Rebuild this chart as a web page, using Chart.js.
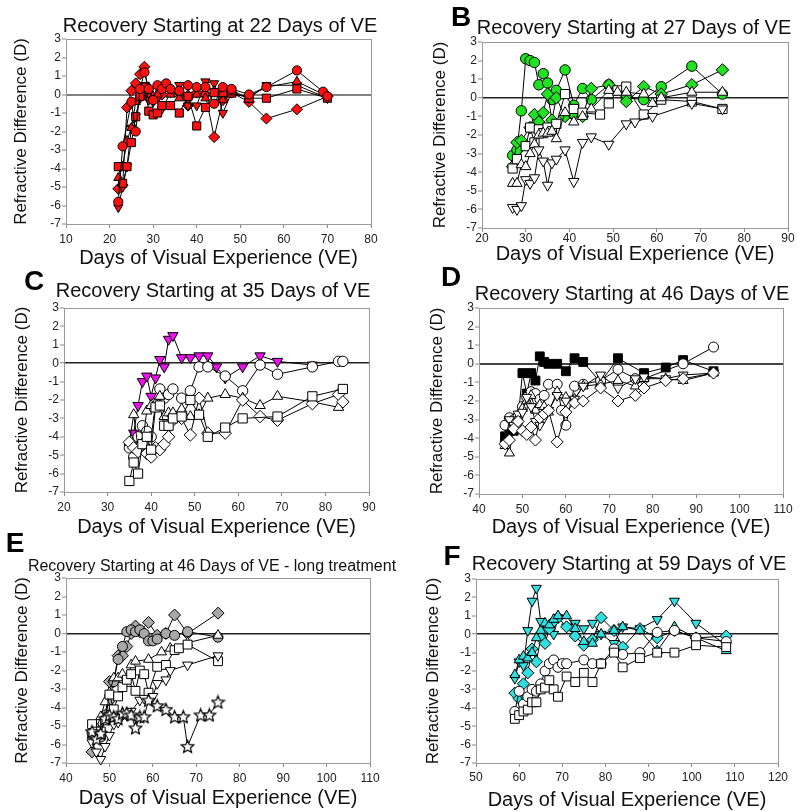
<!DOCTYPE html>
<html><head><meta charset="utf-8">
<script src="https://cdn.jsdelivr.net/npm/chart.js@4"></script>
<style>
body{margin:0;background:#fff;width:800px;height:812px;position:relative;overflow:hidden;font-family:"Liberation Sans",Arial,sans-serif}
canvas{position:absolute}
.t{position:absolute;white-space:nowrap;transform:translate(-50%,-50%);color:#111;line-height:1}
.l{position:absolute;font-weight:bold;font-size:28px;transform:translate(-50%,-50%);color:#000;line-height:1}
</style></head><body>
<canvas id="cA" width="400" height="270" style="left:0;top:0"></canvas>
<canvas id="cB" width="400" height="270" style="left:400px;top:0"></canvas>
<canvas id="cC" width="400" height="270" style="left:0;top:270px"></canvas>
<canvas id="cD" width="400" height="270" style="left:400px;top:270px"></canvas>
<canvas id="cE" width="400" height="272" style="left:0;top:540px"></canvas>
<canvas id="cF" width="400" height="272" style="left:400px;top:540px"></canvas>
<div class="t" style="left:220px;top:25px;font-size:20px">Recovery Starting at 22 Days of VE</div>
<div class="t" style="left:634px;top:27px;font-size:20px">Recovery Starting at 27 Days of VE</div>
<div class="t" style="left:213px;top:290px;font-size:20px">Recovery Starting at 35 Days of VE</div>
<div class="t" style="left:632px;top:293px;font-size:20px">Recovery Starting at 46 Days of VE</div>
<div class="t" style="left:212px;top:566px;font-size:16px">Recovery Starting at 46 Days of VE - long treatment</div>
<div class="t" style="left:629px;top:563px;font-size:20px">Recovery Starting at 59 Days of VE</div>
<div class="l" style="left:461px;top:17px">B</div>
<div class="l" style="left:34px;top:281px">C</div>
<div class="l" style="left:451px;top:277px">D</div>
<div class="l" style="left:15px;top:543px">E</div>
<div class="l" style="left:452px;top:556px">F</div>
<script>
// ---------- DATA ----------
const yTicks = [-7,-6,-5,-4,-3,-2,-1,0,1,2,3];
const yTitle = "Refractive Difference (D)";
const xTitle = "Days of Visual Experience (VE)";

// Panel A (22 days)
const aCircleX = [22,23,25,26,27,28,29,30,31,32,33,34,36,38,40,42,44,46,48,52,56,63,69,70];
const aCircleY = [-5.8,-2.8,-0.4,-2.0,0.3,1.2,0.3,-0.3,0.5,0.3,0.6,0.3,0.2,0.5,0.4,0.4,-0.5,0.4,0.3,0.0,0.4,1.3,0.15,-0.1];
const aSquareX = [22,23,24,25,26,27,28,29,30,31,32,34,36,38,40,42,44,46,48,52,56,63,70];
const aSquareY = [-3.9,-4.8,-3.9,-2.6,-1.2,-0.1,0.4,-0.9,-1.1,-1.0,-0.6,-0.6,-1.0,-0.1,-1.7,-0.7,0.1,0.1,0.2,-0.2,-0.2,0.3,-0.2];
const aTriUpX = [22,23,24,25,26,27,28,29,30,31,32,34,36,38,40,42,44,46,48,52,56,63,70];
const aTriUpY = [-4.5,-3.9,-2.5,-1.8,-0.4,0.2,0.3,0.4,-0.1,0.0,0.4,0.0,-0.2,0.0,0.0,-0.2,0.2,-0.3,0.0,-0.1,0.4,0.7,-0.1];
const aTriDnX = [22,23,24,25,26,27,28,29,30,31,32,34,36,38,40,42,44,46,48,52,56,63,70];
const aTriDnY = [-6.1,-5.0,-3.9,-1.8,-1.2,-0.2,0.5,-0.3,-0.4,-0.2,-0.8,0.1,0.5,-0.6,-0.6,0.7,0.6,-1.0,0.1,-0.2,0.5,0.5,-0.2];
const aDiamX = [22,23,24,25,26,27,28,29,30,31,32,34,36,38,40,42,44,46,48,52,56,63,70];
const aDiamY = [-5.1,-4.9,-0.7,0.2,0.6,1.1,1.5,-0.2,-0.3,-0.1,0.0,0.3,0.1,-0.6,0.1,0.0,-2.3,-0.3,0.1,-0.4,-1.3,-0.8,-0.1];

// Panel B (27 days)
const bCircleX = [27,28,29,30,31,32,33,34,35,36,37,39,41,43,45,49,53,57,61,68,75];
const bCircleY = [-3.1,-2.8,-0.7,2.1,2.0,1.9,0.7,1.3,0.8,-0.1,0.4,1.5,-0.4,0.5,-0.1,0.7,0.0,-0.1,0.6,1.7,0.2];
const bDiamX = [27,28,29,31,32,33,34,35,36,37,39,41,43,45,49,53,57,61,68,75];
const bDiamY = [-3.7,-2.4,-2.3,-1.6,-0.9,-1.3,-0.8,0.2,-1.2,0.0,-1.0,-0.9,-1.0,0.5,0.7,-0.2,0.6,0.2,0.7,1.5];
const bSquareX = [27,28,30,31,32,33,34,35,36,37,39,41,43,47,49,51,53,57,61,68,75];
const bSquareY = [-3.8,-3.3,-2.6,-1.6,-2.4,-1.7,-1.9,-1.6,-1.8,-1.4,0.2,-0.6,-0.8,-0.9,-0.3,0.4,0.6,-0.9,-0.1,-0.2,-0.6];
const bTriUpX = [27,28,29,30,31,32,33,34,35,36,37,39,41,43,45,49,51,53,57,59,61,68,75];
const bTriUpY = [-4.6,-4.6,-3.6,-3.7,-3.0,-2.5,-2.0,-1.9,-1.9,-1.8,-2.2,-0.8,-1.3,-1.0,-0.6,0.4,0.3,0.3,0.2,-0.3,0.0,0.3,0.3];
const bTriDnX = [27,28,29,30,31,32,33,34,35,36,37,39,41,43,45,49,53,55,59,68,75];
const bTriDnY = [-5.9,-6.0,-5.8,-4.4,-4.6,-4.3,-2.8,-3.4,-4.7,-3.5,-3.3,-2.8,-4.5,-2.4,-2.1,-2.5,-1.4,-1.3,-1.0,-0.3,-0.6];

// Panel C (35 days)
const cTriDnX = [35,36,37,38,39,40,41,42,43,44,45,47,49,51,53,55,57,61,65,69,77];
const cTriDnY = [-4.5,-3.8,-2.3,-1.0,-0.7,-1.8,-0.8,0.2,-0.2,1.3,1.5,0.3,0.3,0.4,0.4,-0.2,-0.8,-0.2,0.4,0.1,-0.1];
const cCircleX = [35,36,37,38,39,40,41,42,43,44,45,47,49,51,53,57,61,65,69,77,83,84];
const cCircleY = [-4.6,-5.1,-4.0,-3.4,-3.7,-4.0,-2.2,-1.4,-1.9,-1.7,-1.4,-1.9,-1.5,-0.2,-0.2,-0.7,-1.5,-0.1,-0.6,-0.2,0.1,0.1];
const cSquareX = [35,36,37,38,39,40,41,42,43,44,45,47,49,51,53,57,61,69,77,84];
const cSquareY = [-6.4,-5.4,-6.0,-4.4,-4.0,-4.7,-2.4,-2.3,-3.4,-3.4,-3.0,-2.9,-2.0,-2.8,-4.0,-3.5,-3.0,-2.9,-1.8,-1.4];
const cTriUpX = [35,36,37,38,39,40,41,42,43,44,45,47,49,51,53,57,61,65,69,77,83];
const cTriUpY = [-4.3,-2.8,-4.6,-4.4,-2.6,-2.3,-2.2,-1.8,-2.9,-2.7,-2.7,-2.5,-2.9,-2.8,-1.9,-1.7,-1.9,-2.3,-1.8,-2.1,-2.4];
const cDiamX = [35,36,37,38,39,40,41,42,43,44,45,47,49,51,53,57,61,65,69,77,83,84];
const cDiamY = [-4.3,-4.6,-4.8,-4.4,-4.9,-5.1,-4.6,-4.7,-4.4,-4.0,-3.1,-3.0,-3.9,-1.9,-3.8,-3.8,-2.0,-2.9,-3.1,-2.2,-1.7,-2.1];

// Panel D (46 days)
const dSquareX = [46,47,48,49,50,51,52,53,54,55,56,58,60,62,64,68,72,78,83,87,94];
const dSquareY = [-3.9,-3.6,-3.6,-3.0,-0.5,-1.6,-0.5,-0.9,0.4,0.1,0.0,0.0,-0.4,0.3,0.1,-1.0,0.3,-0.5,-0.2,0.2,-0.4];
const dCircleX = [46,47,48,49,50,51,52,53,54,55,56,58,59,60,62,64,68,72,76,78,87,94];
const dCircleY = [-3.3,-2.9,-3.0,-2.8,-2.3,-1.8,-1.5,-1.6,-1.9,-1.7,-1.1,-1.1,-2.5,-3.3,-1.2,-1.1,-0.9,-0.3,-0.8,-0.8,0.0,0.9];
const dTriUpX = [46,47,48,49,50,51,52,53,54,55,56,58,60,62,64,68,72,76,78,83,87,94];
const dTriUpY = [-4.4,-4.8,-3.4,-2.9,-2.4,-2.0,-1.7,-2.5,-2.2,-2.3,-2.6,-1.5,-1.8,-1.9,-1.2,-1.1,-0.9,-1.2,-0.8,-0.8,-0.9,-0.5];
const dTriDnX = [46,47,48,49,50,51,52,53,54,55,56,58,60,62,64,68,72,76,78,83,87,94];
const dTriDnY = [-4.3,-3.0,-3.3,-2.7,-2.6,-1.8,-2.3,-3.1,-3.3,-2.9,-2.5,-1.7,-2.0,-1.9,-1.2,-0.6,-1.3,-0.8,-0.7,-0.8,-0.6,-0.5];
const dDiamX = [46,47,48,49,50,51,52,53,54,55,56,58,60,62,64,68,72,76,78,83,87,94];
const dDiamY = [-4.3,-4.1,-3.5,-3.1,-3.6,-3.8,-3.4,-4.1,-2.9,-2.7,-2.5,-4.2,-2.6,-2.1,-2.0,-1.3,-2.0,-1.7,-1.3,-0.9,-0.8,-0.5];

// Panel E (46 days, long treatment)
const eCircleX = [46,47,48,49,50,51,52,53,54,55,56,57,58,59,60,61,63,65,68,75];
const eCircleY = [-5.4,-5.2,-5.6,-4.4,-3.6,-2.6,-1.4,-0.7,0.1,0.2,0.1,0.2,0.0,-0.4,-0.4,-0.3,0.0,-0.1,0.1,-0.2];
const eDiamX = [46,47,48,49,50,51,52,53,54,55,56,57,59,61,63,65,68,75];
const eDiamY = [-6.4,-5.5,-5.3,-4.6,-2.6,-2.6,-1.2,-1.2,-0.7,0.0,0.4,0.1,0.6,-0.1,0.0,1.0,0.0,1.1];
const eTriUpX = [46,47,48,49,50,51,52,53,54,55,56,59,62,64,68,75];
const eTriUpY = [-5.5,-5.1,-4.5,-3.7,-3.2,-2.4,-2.4,-2.2,-2.7,-1.7,-1.5,-1.4,-1.0,-0.8,-0.5,-0.1];
const eSquareX = [46,47,48,49,50,51,52,53,54,55,56,57,58,59,61,63,65,66,68,75];
const eSquareY = [-4.9,-5.3,-5.3,-4.7,-3.3,-4.1,-3.4,-2.9,-2.5,-2.2,-3.1,-2.0,-2.2,-3.2,-1.8,-1.7,-0.9,-0.8,-0.6,-1.5];
const eTriDnX = [46,47,48,49,50,51,52,53,54,55,57,58,60,61,63,64,68,75];
const eTriDnY = [-5.9,-6.4,-6.8,-6.1,-5.5,-4.9,-4.8,-4.4,-4.4,-4.2,-3.6,-3.5,-3.4,-2.7,-2.5,-2.0,-1.7,-1.2];
const eStarX = [46,47,48,49,50,51,52,53,54,55,56,57,58,59,61,63,65,67,68,71,73,75];
const eStarY = [-5.3,-5.7,-5.4,-4.6,-4.4,-4.5,-4.6,-4.3,-4.3,-4.4,-5.1,-4.5,-4.5,-3.6,-3.9,-4.1,-4.5,-4.5,-6.1,-4.4,-4.4,-3.7];

// Panel F (59 days)
const fTriDnX = [59,60,61,62,63,64,65,66,67,68,69,71,73,75,77,79,82,84,88,92,96,101,108];
const fTriDnY = [-2.4,-1.5,-1.7,0.2,1.8,2.5,0.7,0.2,0.4,0.0,0.9,0.4,0.6,0.3,0.6,0.0,-0.5,0.4,0.3,0.8,1.8,0.6,-0.6];
const fDiamX = [59,60,61,62,63,64,65,66,67,68,69,71,73,75,77,79,82,84,88,92,96,101,108];
const fDiamY = [-3.2,-3.5,-2.7,-2.1,-0.8,-1.5,-0.2,-0.5,0.3,0.7,0.9,0.4,-0.1,-0.6,-0.3,0.9,0.2,-0.7,0.3,-0.2,0.2,-0.2,-0.1];
const fTriUpX = [59,60,61,62,63,64,65,66,67,68,69,71,73,75,77,79,82,84,88,92,96,101,108];
const fTriUpY = [-2.2,-1.4,-1.2,-1.3,-1.0,-0.2,0.2,0.6,0.5,0.8,1.0,1.0,0.3,-0.4,-0.5,0.0,0.2,0.4,0.2,-0.9,0.4,-0.2,-0.9];
const fCircleX = [59,60,61,62,63,64,65,66,67,68,69,70,71,75,77,79,82,84,88,92,96,101,108];
const fCircleY = [-4.2,-3.1,-3.8,-3.4,-3.0,-3.1,-2.7,-2.0,-1.6,-1.4,-1.8,-1.6,-1.6,-1.4,-1.6,-1.6,-0.8,-1.1,-1.0,0.1,0.2,-0.2,-0.4];
const fSquareX = [59,60,61,62,63,64,65,66,67,68,69,71,73,75,77,79,82,84,88,92,96,101,108];
const fSquareY = [-4.6,-4.4,-4.2,-4.1,-3.7,-3.7,-3.0,-2.9,-2.5,-3.0,-3.4,-2.3,-2.6,-2.1,-2.6,-1.6,-1.0,-1.8,-1.3,-1.0,-1.0,-0.6,-0.7];

// ---------- STYLES ----------
const RED = '#ff1010', GREEN = '#22e022', WHITE = '#ffffff', MAG = '#ee10ee', BLACK = '#000000', GRAY = '#a8a8a8', CYAN = '#30e0e0';

function starImage(size) {
  const c = document.createElement('canvas');
  c.width = c.height = size;
  const g = c.getContext('2d');
  const cx = size / 2, cy = size / 2 + 0.6, R = size / 2 - 0.8, r = R * 0.45;
  g.beginPath();
  for (let i = 0; i < 10; i++) {
    const a = -Math.PI / 2 + i * Math.PI / 5;
    const rr = i % 2 ? r : R;
    const px = cx + Math.cos(a) * rr, py = cy + Math.sin(a) * rr;
    i ? g.lineTo(px, py) : g.moveTo(px, py);
  }
  g.closePath();
  g.fillStyle = '#fff'; g.fill();
  g.strokeStyle = '#000'; g.lineWidth = 1.2; g.stroke();
  return c;
}
const STAR = starImage(15);

const SHAPES = {
  circle: {pointStyle: 'circle', rot: 0, k: 1},
  square: {pointStyle: 'rect', rot: 0, k: 1.25},
  triUp: {pointStyle: 'triangle', rot: 0, k: 1.15},
  triDn: {pointStyle: 'triangle', rot: 180, k: 1.15},
  diam: {pointStyle: 'rectRot', rot: 0, k: 1.2},
  star: {pointStyle: STAR, rot: 0, k: 1}
};

function S(xs, ys, shape, fill) { return {xs, ys, shape, fill}; }

const panels = [
  {id: 'cA', box: [0, 0, 400, 270], plot: [66, 371, 39, 224], xr: [10, 80], yPad: 21, xPad: 0, tPad: 4, zero: ['#808080', 2], r: 4.6,
   series: [S(aCircleX, aCircleY, 'circle', RED), S(aSquareX, aSquareY, 'square', RED), S(aTriUpX, aTriUpY, 'triUp', RED), S(aTriDnX, aTriDnY, 'triDn', RED), S(aDiamX, aDiamY, 'diam', RED)]},
  {id: 'cB', box: [400, 0, 400, 270], plot: [482, 788, 42, 228], xr: [20, 90], yPad: 40, xPad: 4, tPad: -1, zero: ['#222', 1.5], r: 5.2,
   series: [S(bTriDnX, bTriDnY, 'triDn', WHITE), S(bTriUpX, bTriUpY, 'triUp', WHITE), S(bSquareX, bSquareY, 'square', WHITE), S(bDiamX, bDiamY, 'diam', GREEN), S(bCircleX, bCircleY, 'circle', GREEN)]},
  {id: 'cC', box: [0, 270, 400, 270], plot: [64, 369, 308, 492], xr: [20, 90], yPad: 22, xPad: 1, tPad: 4, zero: ['#222', 1.5], r: 5.2,
   series: [S(cSquareX, cSquareY, 'square', WHITE), S(cDiamX, cDiamY, 'diam', WHITE), S(cTriUpX, cTriUpY, 'triUp', WHITE), S(cCircleX, cCircleY, 'circle', WHITE), S(cTriDnX, cTriDnY, 'triDn', MAG)]},
  {id: 'cD', box: [400, 270, 400, 270], plot: [479, 783, 308, 494], xr: [40, 110], yPad: 37, xPad: 1, tPad: 4, zero: ['#444', 2], r: 5,
   series: [S(dDiamX, dDiamY, 'diam', WHITE), S(dTriDnX, dTriDnY, 'triDn', WHITE), S(dTriUpX, dTriUpY, 'triUp', WHITE), S(dCircleX, dCircleY, 'circle', WHITE), S(dSquareX, dSquareY, 'square', BLACK)]},
  {id: 'cE', box: [0, 540, 400, 272], plot: [66, 370, 578, 763], xr: [40, 110], yPad: 22, xPad: 2, tPad: 4, zero: ['#222', 1.5], r: 5,
   series: [S(eStarX, eStarY, 'star', WHITE), S(eTriDnX, eTriDnY, 'triDn', WHITE), S(eSquareX, eSquareY, 'square', WHITE), S(eTriUpX, eTriUpY, 'triUp', WHITE), S(eCircleX, eCircleY, 'circle', GRAY), S(eDiamX, eDiamY, 'diam', GRAY)]},
  {id: 'cF', box: [400, 540, 400, 272], plot: [476, 778, 579, 763], xr: [50, 120], yPad: 33, xPad: 0, tPad: 3, zero: ['#222', 1.5], r: 5,
   series: [S(fSquareX, fSquareY, 'square', WHITE), S(fCircleX, fCircleY, 'circle', WHITE), S(fTriUpX, fTriUpY, 'triUp', CYAN), S(fDiamX, fDiamY, 'diam', CYAN), S(fTriDnX, fTriDnY, 'triDn', CYAN)]}
];

const frame = {
  id: 'frame',
  beforeDatasetsDraw(chart) {
    const a = chart.chartArea, g = chart.ctx;
    g.save(); g.strokeStyle = '#999'; g.lineWidth = 1;
    g.strokeRect(Math.round(a.left) + 0.5, Math.round(a.top) + 0.5, Math.round(a.right - a.left), Math.round(a.bottom - a.top));
    g.restore();
  }
};

const tickFont = {family: "'Liberation Sans', Arial, sans-serif", size: 12};
const titleFont = {family: "'Liberation Sans', Arial, sans-serif", size: 20};
const yTitleFont = {family: "'Liberation Sans', Arial, sans-serif", size: 17};

panels.forEach(p => {
  const [cx, cy, cw, ch] = p.box;
  const [pl, pr, pt, pb] = p.plot;
  const datasets = p.series.map(s => {
    const sh = SHAPES[s.shape];
    return {
      data: s.xs.map((x, i) => ({x, y: s.ys[i]})),
      showLine: true, borderColor: '#000', borderWidth: 1, tension: 0,
      pointStyle: sh.pointStyle, pointRotation: sh.rot,
      pointRadius: p.r * sh.k, pointHoverRadius: p.r * sh.k,
      pointBackgroundColor: s.fill, pointBorderColor: '#000', pointBorderWidth: 1,
      clip: false
    };
  });
  new Chart(document.getElementById(p.id), {
    type: 'scatter',
    data: {datasets},
    plugins: [frame],
    options: {
      responsive: false, animation: false, devicePixelRatio: 1,
      layout: {padding: {left: 0, top: pt - cy, right: cx + cw - pr, bottom: 0}},
      plugins: {legend: {display: false}, tooltip: {enabled: false}, title: {display: false}},
      scales: {
        x: {
          type: 'linear', min: p.xr[0], max: p.xr[1],
          ticks: {stepSize: 10, font: tickFont, color: '#222', padding: p.tPad, maxRotation: 0, autoSkip: false},
          grid: {drawOnChartArea: false, drawTicks: true, tickLength: 4, tickColor: '#888', tickWidth: 1},
          border: {color: '#999'},
          title: {display: true, text: xTitle, font: titleFont, color: '#111', padding: {top: 0, bottom: p.xPad}},
          afterFit: s => { s.height = cy + ch - pb; }
        },
        y: {
          type: 'linear', min: -7, max: 3,
          afterBuildTicks: s => { s.ticks = yTicks.map(v => ({value: v})); },
          ticks: {font: tickFont, color: '#222', padding: 1, autoSkip: false},
          grid: {
            drawTicks: true, tickLength: 4, tickColor: '#888', tickWidth: 1,
            color: c => (c.tick && c.tick.value === 0) ? p.zero[0] : 'rgba(0,0,0,0)',
            lineWidth: c => (c.tick && c.tick.value === 0) ? p.zero[1] : 0
          },
          border: {color: '#999'},
          title: {display: true, text: yTitle, font: yTitleFont, color: '#111', padding: {top: p.yPad - 10, bottom: 0}},
          afterFit: s => { s.width = pl - cx; }
        }
      }
    }
  });
});
</script>
</body></html>
